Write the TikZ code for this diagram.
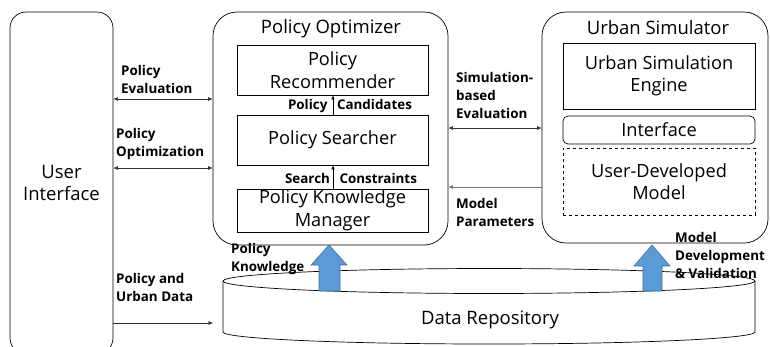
\documentclass[tikz,border=0pt]{standalone}
\usepackage{fontspec}
\setmainfont{Open Sans}
\usetikzlibrary{arrows.meta}
\definecolor{blockblue}{HTML}{5B9BD5}
\definecolor{blockedge}{HTML}{41719C}
\tikzset{
  inbox/.style={draw, line width=0.7pt, align=center, font=\fontsize{18.2}{22.5}\selectfont, inner sep=0pt},
  lbl/.style={font=\bfseries\fontsize{13.4}{18}\selectfont, align=left, inner sep=0pt, anchor=west},
  conn/.style={line width=0.6pt, draw=black!80, -{Latex[length=4.5pt,width=4pt]}},
  dconn/.style={line width=0.6pt, draw=black!80, {Latex[length=4.5pt,width=4pt]}-{Latex[length=4.5pt,width=4pt]}},
  inconn/.style={line width=0.6pt, -{Latex[length=4pt,width=3.5pt]}},
  blockarrow/.style={fill=blockblue, draw=blockedge, line width=0.6pt},
  ttl/.style={font=\fontsize{18.5}{22}\selectfont, inner sep=0pt}
}
\begin{document}
\begin{tikzpicture}[x=1pt,y=-1pt]
\useasboundingbox (0,0) rectangle (770,346);
% User interface
\node[draw, rounded corners=16pt, line width=0.7pt, minimum width=103pt, minimum height=342pt, align=center, font=\fontsize{18.5}{22}\selectfont] (ui) at (61.5,183) {User\\Interface};
% Policy optimizer
\node[draw, rounded corners=24pt, line width=0.7pt, minimum width=235pt, minimum height=233pt] (po) at (330.5,128.5) {};
\node[ttl] (pot) at (331,29) {Policy Optimizer};
\node[inbox, minimum width=191pt, minimum height=50pt] (rec) at (332.5,70) {Policy\\Recommender};
\node[inbox, minimum width=191pt, minimum height=50pt] (sea) at (332.5,140) {Policy Searcher};
\node[inbox, minimum width=191pt, minimum height=43pt] (pkm) at (332.5,210.5) {Policy Knowledge\\Manager};
\coordinate (ax) at (333,0);
\node[lbl, anchor=center] (pc) at (350,106.5) {Policy\,\phantom{|}Candidates};
\node[lbl, anchor=center] (sc) at (351,180) {Search\,\phantom{|}Constraints};
\draw[inconn] (sea.north -| ax) -- (rec.south -| ax);
\draw[inconn] (pkm.north -| ax) -- (sea.south -| ax);
% Urban simulator
\node[draw, rounded corners=24pt, line width=0.7pt, minimum width=226pt, minimum height=231pt] (us) at (655,127.5) {};
\node[ttl] (ust) at (658,28) {Urban Simulator};
\node[inbox, minimum width=192pt, minimum height=66pt] (eng) at (659,76) {Urban Simulation\\Engine};
\node[inbox, rounded corners=5pt, minimum width=192pt, minimum height=28pt] (itf) at (659,130) {Interface};
\node[inbox, dashed, minimum width=192pt, minimum height=67pt] (udm) at (659,181.5) {User-Developed\\Model};
% Data repository cylinder
\filldraw[fill=white, line width=0.7pt] (223,281) -- (223,332) arc[start angle=180, end angle=0, x radius=266, y radius=12] -- (755,281);
\draw[line width=0.7pt] (489,281) ellipse[x radius=266, y radius=12.5];
\node[font=\fontsize{18.5}{22}\selectfont, inner sep=0pt] (dr) at (490,320) {Data Repository};
% block arrows
\filldraw[blockarrow] (319,291) -- (319,265) -- (311,265) -- (329,245) -- (347,265) -- (340,265) -- (340,291) -- cycle;
\filldraw[blockarrow] (643,291) -- (643,266) -- (634,266) -- (652,245) -- (670,266) -- (662,266) -- (662,291) -- cycle;
% connectors
\draw[dconn] (ui.east |- 0,99) -- (po.west |- 0,99);
\draw[dconn] (ui.east |- 0,168) -- (po.west |- 0,168);
\draw[conn] (ui.east |- 0,323) -- (213,323);
\draw[dconn] (po.east |- 0,128) -- (us.west |- 0,128);
\draw[conn, draw=black!55] (us.west |- 0,187) -- (po.east |- 0,187);
% labels
\node[lbl] (l1) at (121,79) {Policy\\Evaluation};
\node[lbl] (l2) at (116,144) {Policy\\Optimization};
\node[lbl] (l3) at (116,287.5) {Policy and\\Urban Data};
\node[lbl] (l4) at (456,95.5) {Simulation-\\based\\Evaluation};
\node[lbl] (l5) at (456,212.5) {Model\\Parameters};
\node[lbl] (l6) at (231,259) {Policy\\Knowledge};
\node[lbl] (l7) at (675,255.5) {Model\\Development\\\& Validation};
\end{tikzpicture}
\end{document}
